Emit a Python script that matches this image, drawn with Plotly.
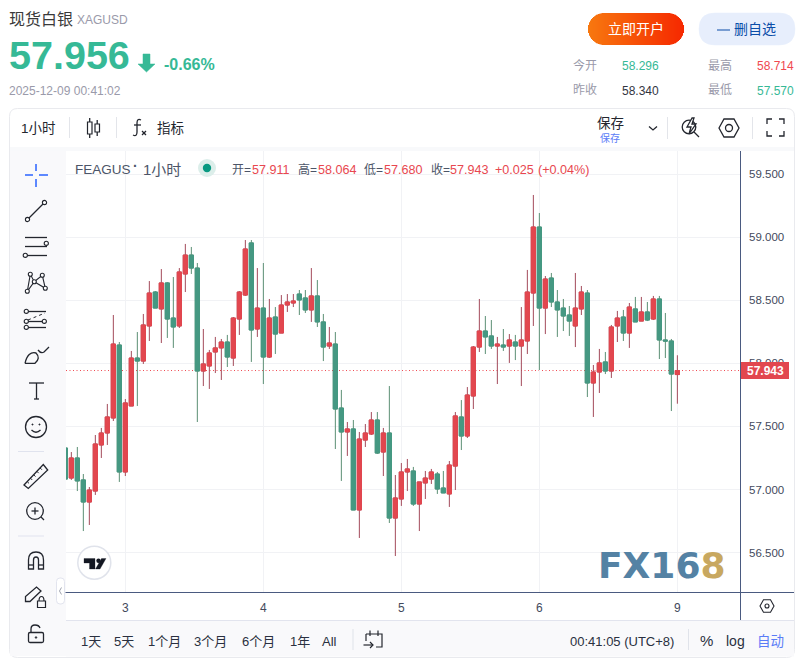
import math
import plotly.graph_objects as go

# ---------- data ----------
opens = [57.329,57.091,57.250,57.076,56.901,56.988,57.353,57.448,57.567,58.145,57.139,57.662,58.042,58.018,58.296,58.565,58.431,58.637,58.359,58.296,58.708,58.858,58.755,57.939,57.979,58.090,58.122,58.169,58.042,58.351,58.541,58.954,58.272,58.438,58.050,58.367,58.240,58.462,58.478,58.549,58.518,58.423,58.534,58.328,58.137,58.153,57.646,57.456,57.480,56.838,57.392,57.440,57.551,57.297,57.448,56.774,56.925,57.139,57.147,56.885,57.052,57.083,57.123,57.012,56.965,57.186,57.575,57.424,57.741,58.129,58.256,58.217,58.137,58.145,58.137,58.169,58.137,58.177,58.557,59.080,58.438,58.676,58.486,58.438,58.383,58.296,58.431,58.557,57.844,57.931,58.011,57.939,58.296,58.367,58.240,58.431,58.335,58.407,58.351,58.510,58.185,58.177,57.911]
highs = [57.329,57.297,57.337,57.123,57.020,57.432,57.488,57.678,58.383,58.169,57.717,58.098,58.248,58.391,58.652,58.573,58.747,58.644,58.684,58.755,58.946,58.922,58.795,58.272,58.106,58.209,58.193,58.225,58.367,58.573,58.977,58.977,58.755,58.795,58.510,58.446,58.541,58.549,58.549,58.581,58.581,58.755,58.660,58.391,58.288,58.248,57.789,57.535,57.551,57.456,57.519,57.614,57.614,57.488,57.820,57.115,57.210,57.242,57.179,57.060,57.147,57.163,57.139,57.147,57.226,57.614,57.709,57.812,58.137,58.510,58.375,58.343,58.209,58.272,58.232,58.225,58.446,58.740,59.334,59.191,58.692,58.716,58.581,58.510,58.454,58.716,58.613,58.581,57.987,58.114,58.090,58.304,58.415,58.423,58.478,58.526,58.526,58.486,58.534,58.534,58.399,58.193,58.064]
lows = [57.083,57.076,56.988,56.671,56.719,56.957,57.250,57.353,57.543,57.060,57.107,57.662,57.662,57.995,58.177,58.438,58.161,58.201,58.122,58.280,58.565,58.708,57.535,57.820,57.797,57.923,57.868,57.971,57.979,58.225,58.534,58.011,58.209,57.836,58.042,58.074,58.240,58.407,58.446,58.383,58.399,58.328,58.288,58.018,58.114,57.321,57.068,57.266,56.838,56.616,57.337,57.432,57.282,57.107,56.735,56.473,56.870,56.988,56.870,56.671,56.925,57.044,56.965,56.973,56.862,56.996,57.313,57.408,57.638,58.090,58.074,58.114,57.836,58.098,58.003,58.026,57.820,58.074,58.296,57.947,58.232,58.446,58.209,58.256,58.217,58.129,58.383,57.733,57.575,57.765,57.915,57.884,58.169,58.177,58.122,58.328,58.335,58.335,58.343,58.034,58.042,57.622,57.680]
closes = [57.083,57.250,57.068,56.901,56.996,57.361,57.448,57.575,58.153,57.139,57.686,58.042,58.018,58.304,58.557,58.438,58.637,58.351,58.288,58.724,58.858,58.755,57.939,57.995,58.082,58.122,58.169,58.050,58.359,58.565,58.906,58.264,58.438,58.050,58.359,58.232,58.462,58.486,58.494,58.502,58.423,58.534,58.328,58.129,58.161,57.638,57.456,57.480,56.838,57.400,57.448,57.551,57.289,57.448,56.774,56.933,57.139,57.163,56.885,57.060,57.091,57.139,57.004,56.973,57.194,57.583,57.424,57.749,58.129,58.256,58.209,58.137,58.153,58.129,58.185,58.137,58.185,58.565,59.080,58.438,58.668,58.486,58.423,58.375,58.335,58.438,58.565,57.844,57.931,58.003,57.939,58.288,58.359,58.240,58.446,58.328,58.407,58.343,58.510,58.185,58.177,57.915,57.943]
bar_index = list(range(len(closes)))
day_ticks = [10, 33, 56, 79, 102]
day_labels = ["3", "4", "5", "6", "9"]
price_ticks = [56.5, 57.0, 57.5, 58.0, 58.5, 59.0, 59.5]
last_price = 57.943

W, H = 806, 661
CJK = "Liberation Sans, Noto Sans CJK SC, sans-serif"
RED, GREEN = "#e2474f", "#459882"
WRED, WGREEN = "#a34a5a", "#5b8f74"
INK = "#23262e"
TEAL = "#36b996"
GREY = "#9a9aaa"

X = lambda x: x / W
Y = lambda y: 1 - y / H
shapes, annots = [], []


def rect(x0, y0, x1, y1, fill=None, line=None, lw=1, layer="below"):
    shapes.append(dict(type="rect", xref="paper", yref="paper", x0=X(x0), x1=X(x1), y0=Y(y0), y1=Y(y1),
                       fillcolor=fill or "rgba(0,0,0,0)", line=dict(color=line or "rgba(0,0,0,0)", width=lw if line else 0), layer=layer))


def poly(pts, color=INK, lw=1.3, close=False, fill=None, layer="above", dash=None):
    d = "M" + " L".join(f"{X(a):.5f},{Y(b):.5f}" for a, b in pts) + (" Z" if close else "")
    shapes.append(dict(type="path", xref="paper", yref="paper", path=d, fillcolor=fill or "rgba(0,0,0,0)",
                       line=dict(color=color, width=lw, dash=dash or "solid"), layer=layer))


def curve(cmds, color=INK, lw=1.3, fill=None, layer="above"):
    parts = []
    for c in cmds:
        if c[0] == "Z":
            parts.append("Z")
        else:
            vals = c[1:]
            parts.append(c[0] + " ".join(f"{X(vals[i]):.5f},{Y(vals[i+1]):.5f}" for i in range(0, len(vals), 2)))
    shapes.append(dict(type="path", xref="paper", yref="paper", path=" ".join(parts), fillcolor=fill or "rgba(0,0,0,0)",
                       line=dict(color=color, width=lw), layer=layer))


def rrect(x0, y0, x1, y1, r, **kw):
    curve([("M", x0 + r, y0), ("L", x1 - r, y0), ("Q", x1, y0, x1, y0 + r), ("L", x1, y1 - r), ("Q", x1, y1, x1 - r, y1),
           ("L", x0 + r, y1), ("Q", x0, y1, x0, y1 - r), ("L", x0, y0 + r), ("Q", x0, y0, x0 + r, y0), ("Z",)], **kw)


def circ(cx, cy, r, color=INK, lw=1.3, fill="white", layer="above"):
    shapes.append(dict(type="circle", xref="paper", yref="paper", x0=X(cx - r), x1=X(cx + r), y0=Y(cy + r), y1=Y(cy - r),
                       fillcolor=fill, line=dict(color=color, width=lw), layer=layer))


def text(x, y, s, size=12, color=INK, anchor="left", family=CJK, **kw):
    annots.append(dict(xref="paper", yref="paper", x=X(x), y=Y(y), text=s, showarrow=False, xanchor=anchor, yanchor="middle",
                       font=dict(size=size, color=color, family=family), borderpad=0, borderwidth=0, **kw))


def hexagon(cx, cy, rx, ry, rc, lw=1.3):
    poly([(cx - rx, cy), (cx - rx / 2, cy - ry), (cx + rx / 2, cy - ry), (cx + rx, cy), (cx + rx / 2, cy + ry), (cx - rx / 2, cy + ry)], close=True, lw=lw)
    circ(cx, cy, rc, lw=lw)


# ---------- card + panels ----------
rrect(9.5, 108.5, 794.5, 657.5, 8, color="#e9eaee", lw=1, fill="white", layer="below")
rect(10, 147, 794, 151, fill="#f8f9fb")
rect(10, 151, 66, 656, fill="#f9f9fb")
rect(66, 620.5, 794, 656.5, fill="#f9f9fb")
rect(66, 620, 794, 621, fill="#e2e4ee")

# ---------- header ----------
text(9, 20, "现货白银", 16, "#3a3a3a")
text(77, 20.5, "XAGUSD", 12, GREY)
text(9, 55, "<b>57.956</b>", 39.5, TEAL)
poly([(143, 54), (150, 54), (150, 64), (155, 64), (146.5, 72), (138, 64), (143, 64)], color=TEAL, lw=0.5, close=True, fill=TEAL)
text(164, 64, "<b>-0.66%</b>", 16, TEAL)
text(9, 90.5, "2025-12-09 00:41:02", 12, GREY)

BX0, BX1, BY0, BY1 = 588, 684, 13, 45
R = (BY1 - BY0) / 2
c0, c1 = (247, 120, 15), (246, 40, 0)
for sx in range(BX0, BX1):
    mx = sx + 0.5
    dx = max(BX0 + R - mx, mx - (BX1 - R), 0)
    hh = math.sqrt(max(R * R - dx * dx, 0))
    t = (mx - BX0) / (BX1 - BX0)
    col = "rgb(%d,%d,%d)" % tuple(round(c0[i] + (c1[i] - c0[i]) * t) for i in range(3))
    rect(sx, BY0 + R - hh, sx + 1.02, BY0 + R + hh, fill=col)
text(636, 29, "立即开户", 14, "white", anchor="center")
rrect(699, 13, 795, 45, 16, color="#e7eefc", lw=0.5, fill="#e7eefc", layer="below")
rect(717, 29.5, 730, 30.5, fill="#0a4da8", layer="above")
text(734, 29, "删自选", 14, "#0a4da8")

for lab, x, y in (("今开", 573, 66), ("昨收", 573, 90), ("最高", 708, 66), ("最低", 708, 90)):
    text(x, y, lab, 12, GREY)
for val, x, y, col in (("58.296", 622, 66.5, TEAL), ("58.340", 622, 90.5, "#33363f"), ("58.714", 757, 66.5, "#f0484f"), ("57.570", 757, 90.5, TEAL)):
    text(x, y, val, 12, col)

# ---------- top toolbar ----------
text(21, 128.5, "1小时", 13.5, INK)
for sx, y0, y1 in ((69.5, 117, 138), (116.5, 117, 138), (667.5, 117, 139), (752.5, 117, 139)):
    rect(sx - 0.5, y0, sx + 0.5, y1, fill="#e3e5ea")
rect(87.5, 122, 92, 134, line=INK, lw=1.2, layer="above")
poly([(89.7, 118), (89.7, 122)]); poly([(89.7, 134), (89.7, 138)])
rect(95, 124, 99.5, 132, line=INK, lw=1.2, layer="above")
poly([(97.2, 120), (97.2, 124)]); poly([(97.2, 132), (97.2, 136)])
curve([("M", 141, 120), ("Q", 137, 118, 137, 123), ("L", 137, 132), ("Q", 137, 137, 133, 135)])
poly([(134, 125), (141, 125)])
poly([(142, 131), (146, 135)]); poly([(146, 131), (142, 135)])
text(157, 128.5, "指标", 13.5, INK)
text(597, 123.5, "保存", 13.5, INK)
text(600, 137.5, "保存", 10, "#5b7cf7")
poly([(649, 126.5), (653, 130), (657, 126.5)])
circ(689, 127, 6.8, fill="rgba(0,0,0,0)")
poly([(694, 132), (699, 137)])
poly([(692, 118), (687, 127), (691, 127), (689, 134), (696, 124), (692, 124), (694, 118)], close=True, fill="white")
hexagon(729, 128, 10, 9, 3.5)
for a, b in (((767, 124), (767, 119)), ((784, 124), (784, 119)), ((767, 131), (767, 136)), ((784, 131), (784, 136))):
    sgn = 1 if a[0] == 767 else -1
    poly([a, b, (b[0] + 5 * sgn, b[1])])

# ---------- legend row ----------
text(75, 169, "FEAGUS", 13.5, "#4c5568")
text(133, 166, "<b>·</b>", 14, "#4c5568")
text(143, 169, "1小时", 15, "#4c5568")
circ(207, 168, 9, color="#dceeea", lw=0, fill="#dceeea", layer="above")
circ(207, 168, 4.2, color="#089981", lw=0, fill="#089981", layer="above")
LEG = "#e8474f"
for lab, lx, val, vx in (("开=", 232, "57.911", 252), ("高=", 298, "58.064", 318), ("低=", 364, "57.680", 384), ("收=", 431, "57.943", 450)):
    text(lx, 169.5, lab, 12, "#4c5568")
    text(vx, 169.5, val, 12.6, LEG)
text(495, 169.5, "+0.025", 12.6, LEG)
text(538, 169.5, "(+0.04%)", 12.6, LEG)

# ---------- left tools ----------
BL = "#2962ff"
for seg in (((25, 175), (33, 175)), ((39, 175), (48, 175)), ((36, 164), (36, 171)), ((36, 179), (36, 187))):
    poly(list(seg), color=BL, lw=1.5)
poly([(27.5, 219.5), (44.5, 202.5)])
circ(27.5, 219.5, 2.1, lw=1.1); circ(44.5, 202.5, 2.1, lw=1.1)
for ly in (237.5, 246.5, 255.5):
    poly([(25, ly), (47, ly)])
circ(46.3, 243.3, 2.1, lw=1.1); circ(25.3, 255.3, 2.1, lw=1.1)
nodes = [(27.3, 291.3), (30.3, 274.3), (34.3, 281.7), (42.3, 275.3), (45.3, 288.3)]
poly(nodes + [nodes[2], nodes[0]], lw=1.1)
for n in nodes:
    circ(n[0], n[1], 2, lw=1.1)
for ly in (311.5, 321.5, 327.5):
    poly([(27, ly), (46, ly)])
poly([(28, 320), (45, 313)], lw=1, dash="dot")
for p in ((26.3, 311.3), (26.3, 321.3), (44.3, 321.3), (26.3, 327.3)):
    circ(p[0], p[1], 2.1, lw=1.1)
curve([("M", 25, 363.3), ("Q", 28, 351, 36, 353), ("Q", 41, 358, 35, 363.3), ("L", 25, 363.3)])
curve([("M", 38, 350), ("Q", 41, 354, 44, 352), ("L", 49, 347)])
poly([(29, 383), (44, 383)]); poly([(36.5, 383), (36.5, 399)]); poly([(34, 399), (39, 399)])
circ(36, 427, 10.5, fill="rgba(0,0,0,0)")
circ(32.5, 424.5, 0.6, lw=0.8, fill=INK); circ(39.5, 424.5, 0.6, lw=0.8, fill=INK)
curve([("M", 31.5, 430), ("Q", 36, 434.5, 40.5, 430)])
rect(18, 451, 44, 452, fill="#e0e3ee", layer="above")
poly([(24, 485), (28.3, 488.5), (47.7, 470), (43.3, 464.5)], close=True)
for i in range(1, 6):
    ax = 24 + (43.3 - 24) * i / 6
    ay = 485 + (464.5 - 485) * i / 6
    poly([(ax, ay), (ax + 1.8, ay + 1.8)], lw=1)
circ(35, 511, 8.3, fill="rgba(0,0,0,0)")
poly([(41, 517), (44, 520)])
poly([(31.5, 511), (38.5, 511)]); poly([(35, 507.5), (35, 514.5)])
rect(18, 535.5, 44, 536.5, fill="#e0e3ee", layer="above")
curve([("M", 28.5, 569), ("L", 28.5, 560), ("Q", 28.5, 552, 36, 552), ("Q", 43.5, 552, 43.5, 560), ("L", 43.5, 569), ("L", 38.5, 569),
       ("L", 38.5, 560), ("Q", 38.5, 557, 36, 557), ("Q", 33.5, 557, 33.5, 560), ("L", 33.5, 569), ("Z",)])
poly([(28.5, 565), (33.5, 565)]); poly([(38.5, 565), (43.5, 565)])
poly([(25.5, 601.5), (25.5, 596.5), (36.5, 587), (41, 591), (30, 601.5)], close=True)
rect(37.5, 601, 45.5, 607.5, line=INK, lw=1.2, layer="above")
curve([("M", 39, 601), ("Q", 39, 596.5, 41.5, 596.5), ("Q", 44, 596.5, 44, 601)], lw=1.2)
rrect(28.5, 632.5, 43.5, 642.5, 1.5)
curve([("M", 31, 632.5), ("L", 31, 629), ("Q", 31, 625, 35, 625), ("Q", 39, 625, 40, 628)])
circ(36, 637.5, 0.8, lw=0.8, fill=INK)
rrect(56.5, 578, 64.5, 604, 3.5, color="#e2e4ee", lw=1, fill="white")
poly([(61.5, 587.5), (59.5, 591), (61.5, 594.5)], color="#a0a4b0", lw=1)

# ---------- axes decoration ----------
rect(65.5, 592, 794, 593, fill="#4a5a80", layer="above")
rect(740, 151, 741, 620, fill="#4a5a80", layer="above")
hexagon(767, 606, 7, 6.3, 2, lw=1.1)
shapes.append(dict(type="line", xref="paper", yref="y", x0=X(66), x1=X(740), y0=last_price, y1=last_price,
                   line=dict(color="#ef4a52", width=1, dash="1px,2.5px"), layer="below"))
rect(741, 362, 789, 379, fill=RED, layer="above")
annots.append(dict(xref="paper", yref="y", x=X(747), y=last_price, text="<b>57.943</b>", showarrow=False, xanchor="left", yanchor="middle",
                   font=dict(size=12, color="white", family=CJK), borderpad=0, borderwidth=0))

# ---------- logos ----------
text(598, 565.5, "<b><span style='color:#5482a4'>FX16</span><span style='color:#c8a860'>8</span></b>", 36, "#5482a4", family="DejaVu Sans")
circ(94.3, 562.7, 16.5, color="#e0e3eb", lw=1.5, fill="white")
DK = "#131722"
poly([(84, 558.5), (95, 558.5), (95, 569), (89.5, 569), (89.5, 563), (84, 563)], color=DK, lw=0.3, close=True, fill=DK)
circ(98.5, 560.8, 2.2, color=DK, lw=0, fill=DK)
poly([(101.5, 558.5), (106, 558.5), (100, 569), (95.5, 569)], color=DK, lw=0.3, close=True, fill=DK)

# ---------- bottom bar ----------
for s, x in (("1天", 80.5), ("5天", 113.5), ("1个月", 147.5), ("3个月", 194), ("6个月", 241.5), ("1年", 289.5), ("All", 322)):
    text(x, 641, s, 13, "#2a3040")
rect(352.5, 629, 353.5, 650, fill="#e0e3ea", layer="above")
poly([(366, 634), (382, 634), (382, 647), (376, 647)], lw=1.2)
poly([(366, 634), (366, 641)], lw=1.2)
poly([(370, 630.5), (370, 636)], lw=1.2); poly([(378, 630.5), (378, 636)], lw=1.2)
poly([(363.5, 645), (373, 645)], lw=1.2); poly([(370, 642), (373, 645), (370, 648)], lw=1.2)
text(570, 641, "00:41:05 (UTC+8)", 13, "#2a3040")
rect(688, 629, 689, 650, fill="#e0e3ea", layer="above")
text(700, 640.5, "%", 15, "#2a3040")
text(725.5, 641, "log", 14, "#2a3040")
text(757, 641, "自动", 13.5, "#5b7cf7")

# ---------- traces ----------
fig = go.Figure()
fig.add_trace(go.Candlestick(x=bar_index, open=opens, high=highs, low=lows, close=closes, whiskerwidth=0,
                             increasing=dict(line=dict(color=WRED, width=1), fillcolor=WRED),
                             decreasing=dict(line=dict(color=WGREEN, width=1), fillcolor=WGREEN),
                             hoverinfo="skip", showlegend=False))
body_hi = [max(a, b) for a, b in zip(opens, closes)]
body_lo = [min(a, b) for a, b in zip(opens, closes)]
fig.add_trace(go.Candlestick(x=bar_index, open=opens, high=body_hi, low=body_lo, close=closes, whiskerwidth=0,
                             increasing=dict(line=dict(color=RED, width=1), fillcolor=RED),
                             decreasing=dict(line=dict(color=GREEN, width=1), fillcolor=GREEN),
                             hoverinfo="skip", showlegend=False))

fig.update_layout(
    width=W, height=H, margin=dict(l=0, r=0, t=0, b=0, autoexpand=False),
    paper_bgcolor="white", plot_bgcolor="rgba(0,0,0,0)", showlegend=False, boxgap=0.3, boxgroupgap=0, boxmode="overlay",
    font=dict(family=CJK),
    shapes=shapes, annotations=annots,
    xaxis=dict(domain=[X(66), X(740)], range=[0.11, 112.44], tickmode="array", tickvals=day_ticks, ticktext=day_labels,
               showgrid=True, gridcolor="#f1f2f5", gridwidth=1, zeroline=False, showline=False, ticks="",
               rangeslider=dict(visible=False), tickfont=dict(size=12, color="#434a5c"), ticklabelstandoff=6, automargin=False),
    yaxis=dict(domain=[Y(592.5), Y(151)], range=[56.184, 59.6825], side="right", tickmode="array", tickvals=price_ticks,
               ticktext=[f"{v:.3f}" for v in price_ticks], showgrid=True, gridcolor="#f1f2f5", gridwidth=1, zeroline=False,
               showline=False, ticks="", tickfont=dict(size=11.5, color="#434a5c"), ticklabelstandoff=8, automargin=False),
)
fig.write_html("out.html", config={"displayModeBar": False},
               post_script="document.body.style.margin='0';document.body.style.overflow='hidden';")
